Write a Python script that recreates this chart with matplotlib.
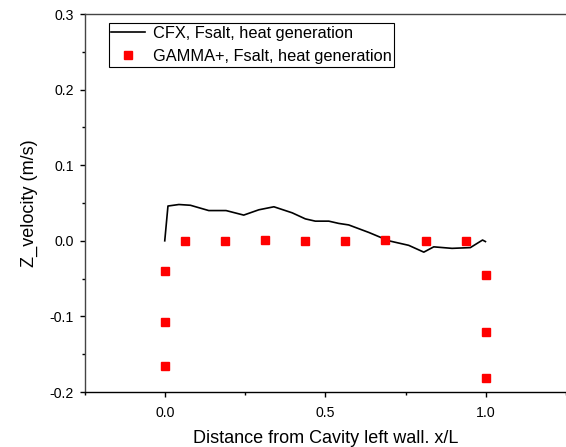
import matplotlib
matplotlib.use("Agg")
import matplotlib.pyplot as plt
from matplotlib.ticker import MultipleLocator, FormatStrFormatter

plt.rcParams['font.family'] = ['Liberation Sans', 'DejaVu Sans']

# CFX profile
cfx_x = [0.0, 0.010, 0.044, 0.080, 0.137, 0.191, 0.246, 0.293, 0.340, 0.397,
         0.438, 0.469, 0.511, 0.542, 0.573, 0.636, 0.698, 0.760, 0.807, 0.838,
         0.895, 0.952, 0.990, 0.999]
cfx_y = [0.0, 0.046, 0.048, 0.047, 0.040, 0.040, 0.034, 0.041, 0.045, 0.037,
         0.029, 0.026, 0.026, 0.023, 0.021, 0.011, 0.0, -0.006, -0.015, -0.008,
         -0.010, -0.009, 0.001, -0.001]

# GAMMA+ points
gamma_x = [0.0, 0.0, 0.0, 0.0625, 0.1875, 0.3125, 0.4375, 0.5625, 0.6875,
           0.8125, 0.9375, 1.0, 1.0, 1.0]
gamma_y = [-0.040, -0.107, -0.165, 0.0, 0.0, 0.001, 0.0, 0.0, 0.001,
           0.0, 0.0, -0.045, -0.120, -0.182]

fig = plt.figure(figsize=(5.66, 4.47), dpi=100)
ax = fig.add_axes([84.5 / 566, 1 - 392 / 447, 1 - 84.5 / 566, (392 - 14) / 447])

ax.plot(cfx_x, cfx_y, color='black', lw=1.2, label='CFX, Fsalt, heat generation')
ax.plot(gamma_x, gamma_y, ls='none', marker='s', ms=5.6, color='red',
        mec='red', label='GAMMA+, Fsalt, heat generation')

ax.set_xlim(-0.25, 1.25)
ax.set_ylim(-0.2, 0.3)
ax.xaxis.set_major_locator(MultipleLocator(0.5))
ax.xaxis.set_minor_locator(MultipleLocator(0.25))
ax.yaxis.set_major_locator(MultipleLocator(0.1))
ax.yaxis.set_minor_locator(MultipleLocator(0.05))
ax.xaxis.set_major_formatter(FormatStrFormatter('%.1f'))
ax.yaxis.set_major_formatter(FormatStrFormatter('%.1f'))

for s in ['left', 'bottom', 'top']:
    ax.spines[s].set_linewidth(1.0)
ax.spines['right'].set_visible(False)
ax.spines['top'].set_color('#444444')
ax.spines['left'].set_color('#444444')
ax.tick_params(which='major', direction='out', length=3.6, width=1, labelsize=10.2, pad=4)
ax.tick_params(which='minor', direction='out', length=2, width=1)
ax.tick_params(axis='x', pad=6.2)

ax.set_xlabel('Distance from Cavity left wall. x/L', fontsize=13, labelpad=7.5)
ax.set_ylabel('Z_velocity (m/s)', fontsize=13, labelpad=8)

leg = ax.legend(loc='upper left', bbox_to_anchor=(0.05, 0.975), fontsize=11.8,
                frameon=True, fancybox=False, edgecolor='black', framealpha=1,
                borderpad=0.15, handlelength=2.1, handletextpad=0.45,
                labelspacing=0.5, borderaxespad=0)
leg.get_frame().set_linewidth(0.8)

fig.savefig('out.png', dpi=100)
